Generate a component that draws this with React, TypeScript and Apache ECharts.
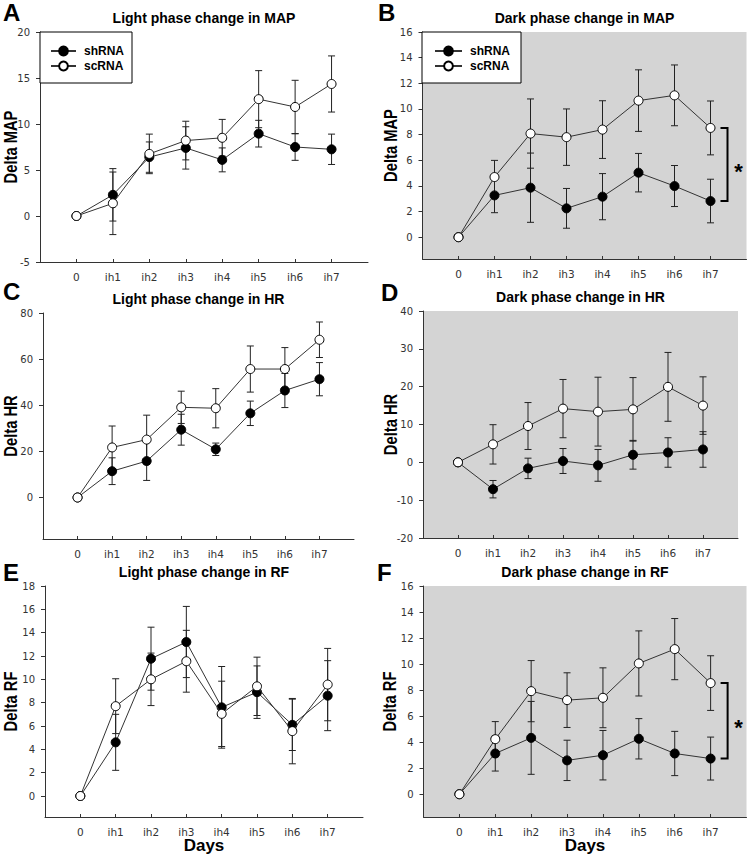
import React, { useEffect, useRef } from "react";
import * as echarts from "echarts";

// ---- categories / tick labels ----
const days = ["0", "ih1", "ih2", "ih3", "ih4", "ih5", "ih6", "ih7"];
const mapLightTicks = [-5, 0, 5, 10, 15, 20];
const mapDarkTicks = [0, 2, 4, 6, 8, 10, 12, 14, 16];
const hrLightTicks = [0, 20, 40, 60, 80];
const hrDarkTicks = [-20, -10, 0, 10, 20, 30, 40];
const rfLightTicks = [0, 2, 4, 6, 8, 10, 12, 14, 16, 18];
const rfDarkTicks = [0, 2, 4, 6, 8, 10, 12, 14, 16];

// ---- series values (mean) and SEM ----
const mapLightSh = [0, 2.3, 6.4, 7.4, 6.1, 8.95, 7.5, 7.25];
const mapLightShErr = [0, 2.85, 1.65, 2.3, 1.3, 1.45, 1.45, 1.65];
const mapLightSc = [0, 1.38, 6.75, 8.2, 8.5, 12.7, 11.85, 14.35];
const mapLightScErr = [0, 3.4, 2.15, 2.1, 2.0, 3.1, 2.9, 3.05];

const mapDarkSh = [0, 3.26, 3.86, 2.25, 3.16, 5.03, 3.99, 2.82];
const mapDarkShErr = [0, 1.35, 2.7, 1.55, 1.8, 1.5, 1.6, 1.7];
const mapDarkSc = [0, 4.69, 8.08, 7.8, 8.39, 10.65, 11.06, 8.52];
const mapDarkScErr = [0, 1.3, 2.7, 2.2, 2.25, 2.4, 2.37, 2.1];

const hrLightSh = [0, 11.4, 15.8, 29.4, 20.9, 36.5, 46.4, 51.3];
const hrLightShErr = [0, 5.8, 8.4, 6.7, 2.7, 5.3, 7.4, 7.2];
const hrLightSc = [0, 21.7, 25.1, 39.1, 38.7, 55.7, 55.7, 68.4];
const hrLightScErr = [0, 9.3, 10.6, 7.0, 8.5, 10.0, 9.3, 7.7];

const hrDarkSh = [0, -7.1, -1.6, 0.35, -0.8, 2.0, 2.6, 3.4];
const hrDarkShErr = [0, 2.3, 2.7, 3.3, 4.2, 3.8, 3.9, 4.7];
const hrDarkSc = [0, 4.75, 9.6, 14.2, 13.4, 14.0, 19.95, 15.0];
const hrDarkScErr = [0, 5.2, 6.2, 7.7, 9.1, 8.4, 9.1, 7.6];

const rfLightSh = [0, 4.6, 11.77, 13.2, 7.6, 8.9, 6.1, 8.6];
const rfLightShErr = [0, 2.4, 2.7, 3.05, 3.5, 2.25, 2.2, 3.0];
const rfLightSc = [0, 7.7, 10.0, 11.55, 7.04, 9.4, 5.56, 9.55];
const rfLightScErr = [0, 2.35, 2.25, 2.65, 2.8, 2.5, 2.8, 3.1];

const rfDarkSh = [0, 3.13, 4.33, 2.6, 3.0, 4.26, 3.13, 2.74];
const rfDarkShErr = [0, 1.35, 2.8, 1.55, 1.9, 1.55, 1.7, 1.65];
const rfDarkSc = [0, 4.23, 7.92, 7.23, 7.41, 10.05, 11.15, 8.54];
const rfDarkScErr = [0, 1.35, 2.35, 2.1, 2.3, 2.5, 2.35, 2.1];

const FONT = "'Liberation Sans', Arial, sans-serif";
const TICKFONT = "'DejaVu Sans', sans-serif";
const GRAY = "#d4d4d4";

type Panel = {
  letter: string;
  title: string;
  yName: string;
  sh: number[];
  shErr: number[];
  sc: number[];
  scErr: number[];
  ticks: number[];
  yMin: number;
  yMax: number;
  grid: { left: number; top: number; width: number; height: number };
  gray: boolean;
  legend: boolean;
  bracket: boolean;
  daysLabel: boolean;
  nameX: number;
  letterPos: [number, number];
};

const panels: Panel[] = [
  {
    letter: "A", title: "Light phase change in MAP", yName: "Delta MAP",
    sh: mapLightSh, shErr: mapLightShErr, sc: mapLightSc, scErr: mapLightScErr,
    ticks: mapLightTicks, yMin: -5, yMax: 20,
    grid: { left: 40, top: 32, width: 328, height: 230 },
    gray: false, legend: true, bracket: false, daysLabel: false, nameX: 10, letterPos: [3, 12],
  },
  {
    letter: "B", title: "Dark phase change in MAP", yName: "Delta MAP",
    sh: mapDarkSh, shErr: mapDarkShErr, sc: mapDarkSc, scErr: mapDarkScErr,
    ticks: mapDarkTicks, yMin: -1.7, yMax: 16,
    grid: { left: 422.5, top: 32, width: 324, height: 227 },
    gray: true, legend: true, bracket: true, daysLabel: false, nameX: 390, letterPos: [378, 12],
  },
  {
    letter: "C", title: "Light phase change in HR", yName: "Delta HR",
    sh: hrLightSh, shErr: hrLightShErr, sc: hrLightSc, scErr: hrLightScErr,
    ticks: hrLightTicks, yMin: -18, yMax: 80,
    grid: { left: 43, top: 313, width: 311, height: 226 },
    gray: false, legend: false, bracket: false, daysLabel: false, nameX: 10.5, letterPos: [3, 291],
  },
  {
    letter: "D", title: "Dark phase change in HR", yName: "Delta HR",
    sh: hrDarkSh, shErr: hrDarkShErr, sc: hrDarkSc, scErr: hrDarkScErr,
    ticks: hrDarkTicks, yMin: -20, yMax: 40,
    grid: { left: 423, top: 311, width: 315, height: 227 },
    gray: true, legend: false, bracket: false, daysLabel: false, nameX: 390, letterPos: [381, 292],
  },
  {
    letter: "E", title: "Light phase change in RF", yName: "Delta RF",
    sh: rfLightSh, shErr: rfLightShErr, sc: rfLightSc, scErr: rfLightScErr,
    ticks: rfLightTicks, yMin: -1.8, yMax: 18,
    grid: { left: 45, top: 586, width: 318, height: 231 },
    gray: false, legend: false, bracket: false, daysLabel: true, nameX: 10.5, letterPos: [3, 572],
  },
  {
    letter: "F", title: "Dark phase change in RF", yName: "Delta RF",
    sh: rfDarkSh, shErr: rfDarkShErr, sc: rfDarkSc, scErr: rfDarkScErr,
    ticks: rfDarkTicks, yMin: -1.75, yMax: 16,
    grid: { left: 423.5, top: 586, width: 323, height: 231 },
    gray: true, legend: false, bracket: true, daysLabel: true, nameX: 389, letterPos: [377, 572],
  },
];

const dayIdx = days.map((_, i) => i);

function errorBarItem(params: any, api: any) {
  const x = api.value(0);
  const lo = api.coord([x, api.value(1)]);
  const hi = api.coord([x, api.value(2)]);
  const w = 3.5;
  const style = { stroke: "#222", lineWidth: 1 };
  return {
    type: "group",
    children: [
      { type: "line", shape: { x1: hi[0], y1: hi[1], x2: lo[0], y2: lo[1] }, style },
      { type: "line", shape: { x1: hi[0] - w, y1: hi[1], x2: hi[0] + w, y2: hi[1] }, style },
      { type: "line", shape: { x1: lo[0] - w, y1: lo[1], x2: lo[0] + w, y2: lo[1] }, style },
    ],
  };
}

function bracketItem(params: any, api: any) {
  const x0 = api.value(0);
  const top = api.coord([x0, api.value(1)]);
  const bot = api.coord([x0, api.value(2)]);
  const x = top[0] + 17;
  const arm = 7;
  return {
    type: "group",
    children: [
      {
        type: "polyline",
        shape: { points: [[x - arm, top[1]], [x, top[1]], [x, bot[1]], [x - arm, bot[1]]] },
        style: { stroke: "#000", lineWidth: 2, fill: "none" },
      },
      {
        type: "text",
        x: x + 11,
        y: (top[1] + bot[1]) / 2 + 7,
        style: {
          text: "*", fontSize: 22, fontWeight: "bold", fontFamily: FONT, fill: "#000",
          align: "center", verticalAlign: "middle",
        },
      },
    ],
  };
}

function buildOption() {
  const grid = panels.map((p) => ({
    ...p.grid,
    show: p.gray,
    backgroundColor: GRAY,
    borderWidth: 0,
    containLabel: false,
  }));
  const axisLineStyle = { color: "#333", width: 1 };
  const xAxis = panels.map((p, i) => ({
    type: "value",
    gridIndex: i,
    min: -1,
    max: 8,
    interval: 1,
    axisLine: { show: true, onZero: false, lineStyle: axisLineStyle },
    axisTick: { show: true, inside: true, length: 3, customValues: dayIdx, lineStyle: axisLineStyle },
    axisLabel: {
      customValues: dayIdx,
      formatter: (v: number) => days[v] ?? "",
      fontFamily: TICKFONT, fontSize: 10.5, color: "#333", margin: 9,
    },
    splitLine: { show: false },
    name: p.daysLabel ? "Days" : "",
    nameLocation: "middle",
    nameGap: 20,
    nameMoveOverlap: false,
    nameTextStyle: { fontFamily: FONT, fontWeight: "bold", fontSize: 17, color: "#000" },
  }));
  const yAxis = panels.map((p, i) => ({
    type: "value",
    gridIndex: i,
    min: p.yMin,
    max: p.yMax,
    axisLine: { show: true, onZero: false, lineStyle: axisLineStyle },
    axisTick: { show: true, inside: false, length: 4, customValues: p.ticks, lineStyle: axisLineStyle },
    axisLabel: {
      customValues: p.ticks,
      fontFamily: TICKFONT, fontSize: 10, color: "#333", margin: 10,
    },
    splitLine: { show: false },
  }));

  const series: any[] = [];
  panels.forEach((p, i) => {
    const errData = (vals: number[], errs: number[]) =>
      vals.map((v, k) => [k, v - errs[k], v + errs[k]]).filter((_, k) => errs[k] > 0);
    series.push({
      type: "custom", name: "shRNA SEM", xAxisIndex: i, yAxisIndex: i,
      renderItem: errorBarItem, data: errData(p.sh, p.shErr), z: 1, silent: true,
      encode: { x: 0, y: [1, 2] },
    });
    series.push({
      type: "custom", name: "scRNA SEM", xAxisIndex: i, yAxisIndex: i,
      renderItem: errorBarItem, data: errData(p.sc, p.scErr), z: 1, silent: true,
      encode: { x: 0, y: [1, 2] },
    });
    series.push({
      type: "line", name: "shRNA", xAxisIndex: i, yAxisIndex: i,
      data: p.sh.map((v, k) => [k, v]),
      symbol: "circle", symbolSize: 9, showAllSymbol: true,
      lineStyle: { color: "#333", width: 1 },
      itemStyle: { color: "#000", borderColor: "#000", borderWidth: 1 },
      z: 3, silent: true,
    });
    series.push({
      type: "line", name: "scRNA", xAxisIndex: i, yAxisIndex: i,
      data: p.sc.map((v, k) => [k, v]),
      symbol: "circle", symbolSize: 9, showAllSymbol: true,
      lineStyle: { color: "#333", width: 1 },
      itemStyle: { color: "#fff", borderColor: "#000", borderWidth: 1 },
      z: 4, silent: true,
    });
    if (p.bracket) {
      const last = days.length - 1;
      series.push({
        type: "custom", name: "significance", xAxisIndex: i, yAxisIndex: i,
        renderItem: bracketItem, data: [[last, p.sc[last], p.sh[last]]], z: 5, silent: true,
        encode: { x: 0, y: [1, 2] },
      });
    }
  });

  const legendBase = {
    orient: "vertical",
    data: ["shRNA", "scRNA"],
    selectedMode: false,
    backgroundColor: "#fff",
    borderColor: "#000",
    borderWidth: 1,
    borderRadius: 0,
    itemHeight: 11,
    itemGap: 3,
    textStyle: { fontFamily: FONT, fontWeight: "bold", fontSize: 12, color: "#000", padding: [0, 0, 0, 3] },
  };
  const legend = [
    { ...legendBase, left: 40, top: 32, itemWidth: 25, padding: [13, 8, 11, 10] },
    { ...legendBase, left: 422, top: 32, itemWidth: 27, padding: [13, 11, 11, 12] },
  ];

  const graphic: any[] = [];
  panels.forEach((p) => {
    graphic.push({
      type: "text",
      x: p.letterPos[0],
      y: p.letterPos[1],
      silent: true,
      style: {
        text: p.letter, fontSize: 24, fontWeight: "bold", fontFamily: FONT, fill: "#000",
        align: "left", verticalAlign: "middle",
      },
    });
    graphic.push({
      type: "text",
      x: p.grid.left + p.grid.width / 2,
      y: p.grid.top - 14,
      silent: true,
      style: {
        text: p.title, fontSize: 14, fontWeight: "bold", fontFamily: FONT, fill: "#000",
        align: "center", verticalAlign: "middle",
      },
    });
    // y-axis title (rotated, slightly condensed along its length like the original)
    graphic.push({
      type: "text",
      x: p.nameX,
      y: p.grid.top + p.grid.height / 2,
      rotation: Math.PI / 2,
      scaleX: 0.82,
      silent: true,
      style: {
        text: p.yName, fontSize: 18, fontWeight: "bold", fontFamily: FONT, fill: "#000",
        align: "center", verticalAlign: "middle",
      },
    });
  });

  return {
    animation: false,
    backgroundColor: "#fff",
    grid,
    xAxis,
    yAxis,
    legend,
    series,
    graphic,
  };
}

export default function App() {
  const ref = useRef<HTMLDivElement>(null);
  useEffect(() => {
    document.body.style.margin = "0";
    if (!ref.current) return;
    const chart = echarts.init(ref.current, undefined, { renderer: "svg" });
    chart.setOption(buildOption() as any);
    return () => chart.dispose();
  }, []);
  return <div ref={ref} style={{ width: 750, height: 857 }} />;
}
